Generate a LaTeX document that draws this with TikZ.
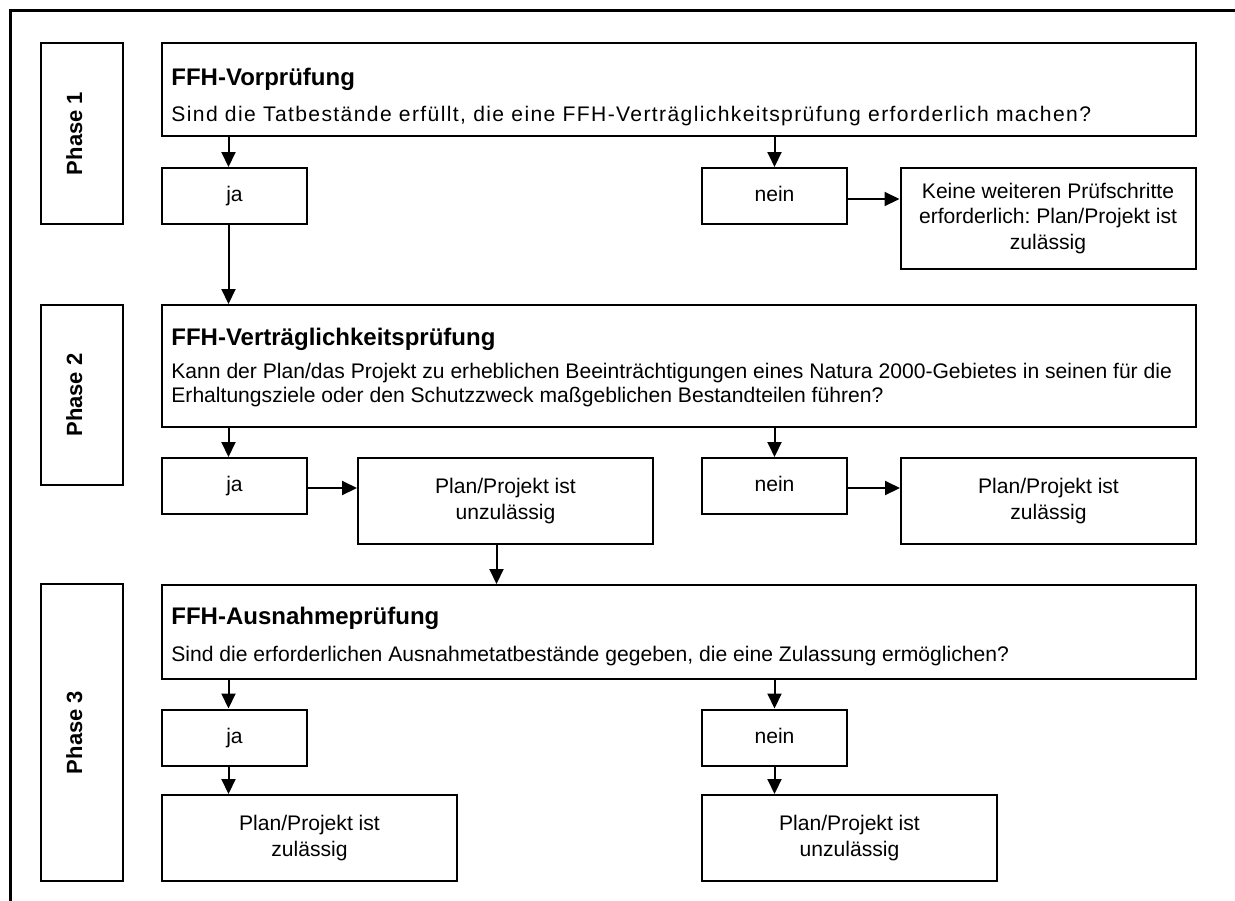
\documentclass[tikz,border=0pt]{standalone}
\usepackage{fontspec}
\setmainfont{Liberation Sans}
\usetikzlibrary{arrows.meta}
\usetikzlibrary{calc}
\frenchspacing
\tikzset{
    % Filled triangle heads, about the size of the ones in the chart
    >={Triangle[width=7pt,length=7.5pt]},
%
    % Every box of the chart: plain black frame, centred text
    chart box/.style={
        draw, rectangle, line width=1pt, inner sep=0pt, align=center,
        font=\fontsize{10.55}{12.75}\selectfont},
%
    % Tall box at the left naming the phase (drawn on its side,
    % the baseline runs through the middle of the box)
    phase box/.style={
        chart box, rotate=90, minimum height=41pt,
        text height=8.5pt, text depth=8.5pt,
        font=\fontsize{11}{13}\selectfont\bfseries},
%
    % Wide box with the question asked in one phase
    question box/.style={chart box, minimum width=517pt},
    step title/.style={
        anchor=base west, inner sep=0pt,
        font=\fontsize{12}{12}\selectfont\bfseries},
    step text/.style={
        anchor=base west, inner sep=0pt,
        font=\fontsize{10.55}{12.75}\selectfont},
%
    % Small ja / nein boxes
    answer box/.style={
        chart box, minimum width=72.5pt, minimum height=28pt,
        text height=7.5pt, text depth=2pt},
%
    % Outcome of a step
    result box/.style={chart box, minimum width=147.5pt, minimum height=43pt},
%
    % Connector between boxes
    flow/.style={->, line width=1pt}}

\begin{document}
\begin{tikzpicture}[x=0.5pt, y=-0.5pt]

\useasboundingbox (0,0) rectangle (1235,900);

% Frame round the whole chart (cut off at the right and at the bottom)
\draw[line width=1.5pt] (10,910) -- (10,10) -- (1245,10);

% Phase 1
\node[phase box, minimum width=90.5pt] (phase 1) at (82,133.5) {Phase 1};
\node[question box, minimum height=46.5pt] (q1) at (679,89.5) {};
\node[step title] (q1 title) at ($(q1.north west)+(10,43)$) {FFH-Vorprüfung};
\node[step text] (q1 text) at ($(q1.north west)+(10,79.5)$)
    {\addfontfeature{LetterSpace=6.5}Sind die Tatbestände erfüllt, die eine FFH-Verträglichkeitsprüfung erforderlich machen?};
\node[answer box] (ja1) at (234.5,196) {ja};
\node[answer box] (nein1) at (774.5,196) {nein};
\node[result box, minimum height=50.5pt] (keine) at (1048,218.5)
    {Keine weiteren Prüfschritte\\erforderlich: Plan/Projekt ist\\zulässig};

\draw[flow] ($(q1.south -| ja1)+(-3pt,0)$) -- ($(ja1.north)+(-3pt,0)$);
\draw[flow] (q1.south -| nein1) -- (nein1);
\draw[flow] ($(nein1.east)+(0,-1.5pt)$) -- ($(nein1.east -| keine.west)+(0,-1.5pt)$);

% Phase 2
\node[phase box, minimum width=90pt] (phase 2) at (82,395) {Phase 2};
\node[question box, minimum height=61pt] (q2) at (679,366) {};
\node[step title] (q2 title) at ($(q2.north west)+(10,41)$) {FFH-Verträglichkeitsprüfung};
\node[step text] (q2 text a) at ($(q2.north west)+(10,74)$)
    {Kann der Plan/das Projekt zu erheblichen Beeinträchtigungen eines Natura 2000-Gebietes in seinen für die};
\node[step text] (q2 text b) at ($(q2.north west)+(10,98)$)
    {Erhaltungsziele oder den Schutzzweck maßgeblichen Bestandteilen führen?};
\node[answer box] (ja2) at (234.5,486) {ja};
\node[result box] (unz2) at (505.5,501) {Plan/Projekt ist\\unzulässig};
\node[answer box] (nein2) at (774.5,486) {nein};
\node[result box] (zul2) at (1048.5,501) {Plan/Projekt ist\\zulässig};

\draw[flow] ($(ja1.south)+(-3pt,0)$) -- ($(ja1.south |- q2.north)+(-3pt,0)$);
\draw[flow] ($(q2.south -| ja2)+(-3pt,0)$) -- ($(ja2.north)+(-3pt,0)$);
\draw[flow] (q2.south -| nein2) -- (nein2);
\draw[flow] ($(ja2.east)+(0,-1pt)$) -- ($(ja2.east -| unz2.west)+(0,-1pt)$);
\draw[flow] ($(nein2.east)+(0,-1pt)$) -- ($(nein2.east -| zul2.west)+(0,-1pt)$);

% Phase 3
\node[phase box, minimum width=148.5pt] (phase 3) at (82,732.5) {Phase 3};
\node[question box, minimum height=47pt] (q3) at (679,632) {};
\node[step title] (q3 title) at ($(q3.north west)+(10,40)$) {FFH-Ausnahmeprüfung};
\node[step text] (q3 text) at ($(q3.north west)+(10,77)$)
    {Sind die erforderlichen Ausnahmetatbestände gegeben, die eine Zulassung ermöglichen?};
\node[answer box] (ja3) at (234.5,737.5) {ja};
\node[answer box] (nein3) at (774.5,737.5) {nein};
\node[result box] (zul3) at (309.5,838) {Plan/Projekt ist\\zulässig};
\node[result box] (unz3) at (849.5,838) {Plan/Projekt ist\\unzulässig};

\draw[flow] ($(unz2.south)+(-4.5pt,0)$) -- ($(unz2.south |- q3.north)+(-4.5pt,0)$);
\draw[flow] ($(q3.south -| ja3)+(-3pt,0)$) -- ($(ja3.north)+(-3pt,0)$);
\draw[flow] (q3.south -| nein3) -- (nein3);
\draw[flow] ($(ja3.south)+(-3pt,0)$) -- ($(ja3.south |- zul3.north)+(-3pt,0)$);
\draw[flow] (nein3.south) -- (nein3.south |- unz3.north);

\end{tikzpicture}
\end{document}
